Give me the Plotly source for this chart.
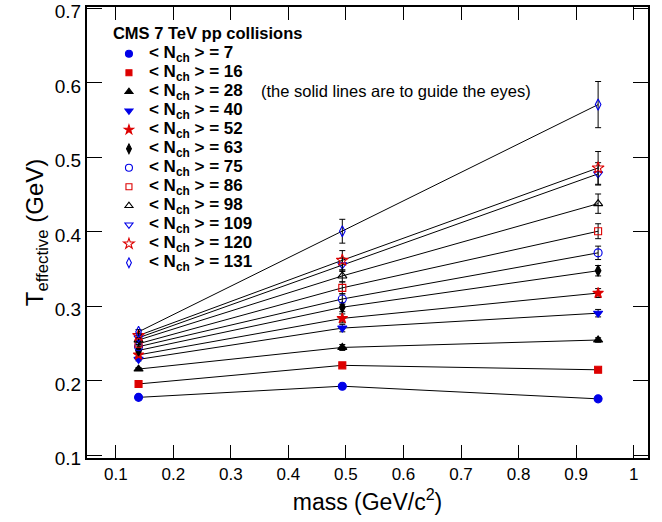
import plotly.graph_objects as go

masses = [0.1396, 0.4937, 0.9383]
nch = [7, 16, 28, 40, 52, 63, 75, 86, 98, 109, 120, 131]
t_eff = [
    [0.178, 0.193, 0.176],
    [0.196, 0.221, 0.215],
    [0.216, 0.245, 0.255],
    [0.229, 0.271, 0.291],
    [0.235, 0.284, 0.318],
    [0.241, 0.299, 0.348],
    [0.246, 0.310, 0.372],
    [0.250, 0.325, 0.401],
    [0.255, 0.341, 0.438],
    [0.258, 0.356, 0.478],
    [0.261, 0.362, 0.486],
    [0.266, 0.401, 0.571],
]
t_err = [
    [0.002, 0.002, 0.002],
    [0.002, 0.002, 0.002],
    [0.002, 0.004, 0.003],
    [0.002, 0.005, 0.005],
    [0.002, 0.006, 0.006],
    [0.002, 0.006, 0.007],
    [0.003, 0.007, 0.009],
    [0.003, 0.008, 0.010],
    [0.003, 0.008, 0.013],
    [0.003, 0.009, 0.015],
    [0.003, 0.013, 0.022],
    [0.003, 0.016, 0.031],
]
x_ticks = [0.1, 0.2, 0.3, 0.4, 0.5, 0.6, 0.7, 0.8, 0.9, 1.0]
x_tick_text = ["0.1", "0.2", "0.3", "0.4", "0.5", "0.6", "0.7", "0.8", "0.9", "1"]
y_ticks = [0.1, 0.2, 0.3, 0.4, 0.5, 0.6, 0.7]

BLUE = "#0000e8"
RED = "#dd0000"
BLACK = "#000000"
symbols = ["circle", "square", "triangle-up", "triangle-down", "star", "diamond-tall",
           "circle-open", "square-open", "triangle-up-open", "triangle-down-open",
           "star-open", "diamond-tall-open"]
colors = [BLUE, RED, BLACK, BLUE, RED, BLACK, BLUE, RED, BLACK, BLUE, RED, BLUE]
sizes = [8, 7, 8, 8, 8, 8, 8, 7, 8, 8, 9, 8]

FONT = "Liberation Sans, Arial, Helvetica, sans-serif"

fig = go.Figure()
for i, n in enumerate(nch):
    fig.add_trace(go.Scatter(
        x=masses, y=t_eff[i], mode="lines+markers",
        line=dict(color="black", width=1),
        marker=dict(symbol=symbols[i], color=colors[i], size=sizes[i],
                    line=dict(color=colors[i], width=1.1)),
        error_y=dict(type="data", array=t_err[i], color="black", thickness=1, width=3),
        showlegend=False,
    ))
for i, n in enumerate(nch):
    fig.add_trace(go.Scatter(
        x=[None], y=[None], mode="markers",
        marker=dict(symbol=symbols[i], color=colors[i], size=sizes[i] - 1,
                    line=dict(color=colors[i], width=1.1)),
        name='<span style="font-size:17px"><b>&lt; N<sub>ch</sub> &gt; = %d</b></span>' % n,
        showlegend=True,
    ))

fig.add_annotation(
    x=0.349, y=0.589, xref="x", yref="y", xanchor="left", yanchor="middle",
    text="(the solid lines are to guide the eyes)", showarrow=False,
    font=dict(family=FONT, size=16.5, color="black"),
)

axis_common = dict(
    showline=True, linewidth=2, linecolor="black", mirror="ticks",
    ticks="inside", tickcolor="black", tickwidth=1,
    showgrid=False, zeroline=False, automargin=False,
    ticklabeloverflow="allow",
)

fig.update_layout(
    width=662, height=522,
    margin=dict(l=87, r=14, t=7, b=64),
    paper_bgcolor="white", plot_bgcolor="white",
    font=dict(family=FONT, color="black"),
    xaxis=dict(range=[0.05, 1.025], tickvals=x_ticks, ticktext=x_tick_text, ticklen=13,
               tickfont=dict(family=FONT, size=17, color="black"),
               title=dict(text="mass (GeV/c<sup>2</sup>)", font=dict(family=FONT, size=23), standoff=10),
               **axis_common),
    yaxis=dict(range=[0.0966, 0.702], tickvals=y_ticks, tickformat=".1f", ticklen=15,
               tickfont=dict(family=FONT, size=19, color="black"), ticklabelshift=3,
               title=dict(text="T<sub>effective</sub> (GeV)", font=dict(family=FONT, size=24), standoff=4),
               **axis_common),
    legend=dict(
        x=0.0427, y=0.976, xanchor="left", yanchor="top",
        bgcolor="rgba(0,0,0,0)", borderwidth=0, indentation=-2,
        font=dict(family=FONT, size=12, color="black"),
        title=dict(text="<b>CMS 7 TeV pp collisions</b>", font=dict(family=FONT, size=16.5), side="top"),
        tracegroupgap=0,
    ),
)

fig.write_html("out.html", config={"displayModeBar": False},
               post_script="document.body.style.margin='0';")
